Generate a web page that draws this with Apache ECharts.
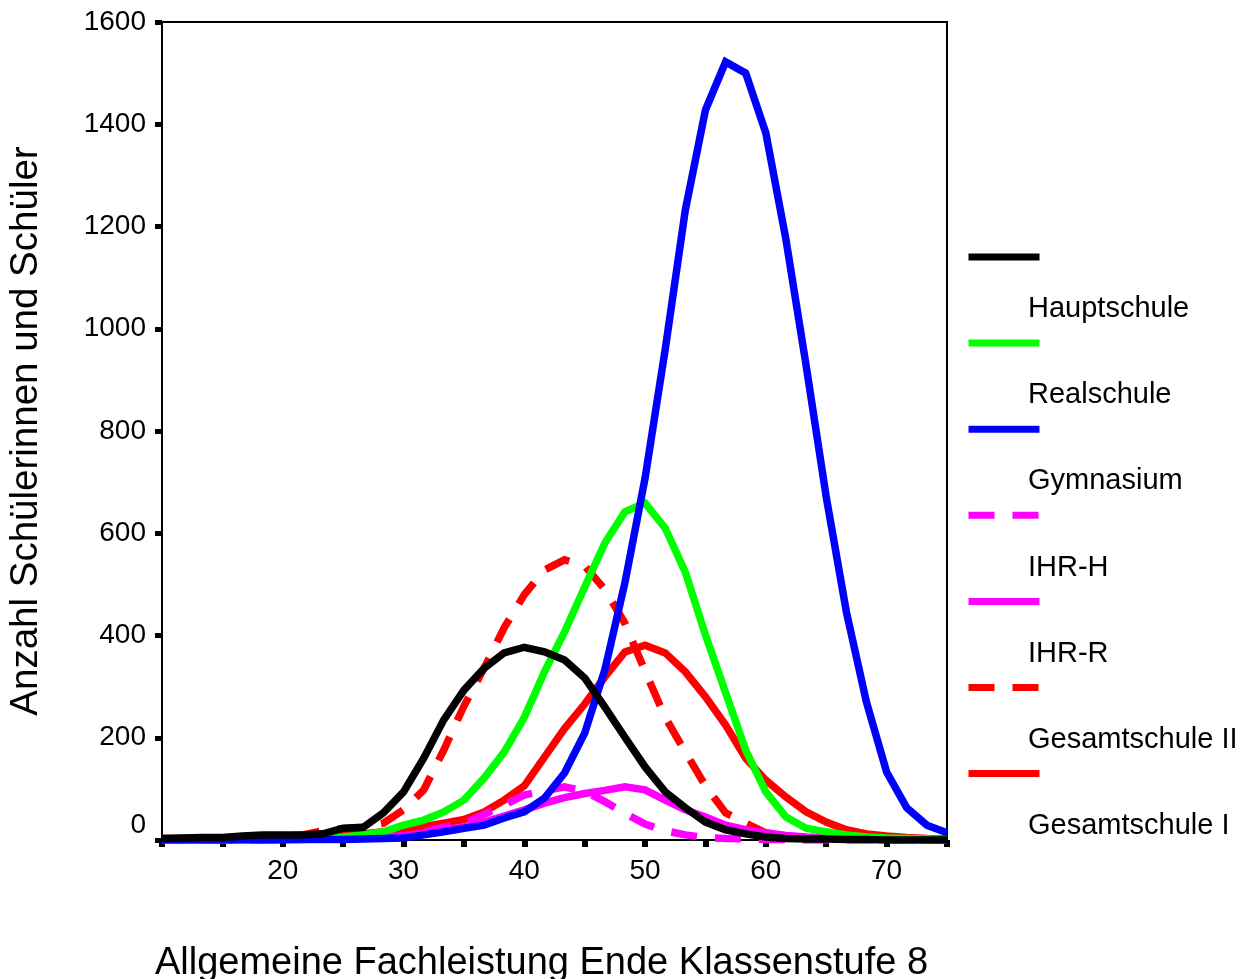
<!DOCTYPE html>
<html>
<head>
<meta charset="utf-8">
<script src="https://cdn.jsdelivr.net/npm/echarts@6/dist/echarts.min.js"></script>
<style>
  html, body { margin: 0; padding: 0; background: #fff; }
  #main { width: 1246px; height: 979px; }
</style>
</head>
<body>
<div id="main"></div>
<script>
// x positions of the curve points (Allgemeine Fachleistung)
const xs = [10, 11.67, 13.33, 15, 16.67, 18.33, 20, 21.67, 23.33, 25,
  26.67, 28.33, 30, 31.67, 33.33, 35, 36.67, 38.33, 40, 41.67,
  43.33, 45, 46.67, 48.33, 50, 51.67, 53.33, 55, 56.67, 58.33,
  60, 61.67, 63.33, 65, 66.67, 68.33, 70, 71.67, 73.33, 75]

const hauptschule = [3, 4, 5, 5, 8, 10, 10, 10, 12, 23,
  25, 53, 94, 160, 235, 293, 336, 366, 377, 368,
  352, 317, 260, 201, 143, 94, 63, 35, 20, 12,
  6, 3, 2, 2, 1, 1, 0, 0, 0, 0]
const realschule = [0, 0, 0, 1, 1, 2, 2, 3, 4, 6,
  10, 16, 29, 39, 55, 78, 121, 172, 240, 329,
  407, 495, 581, 642, 659, 610, 524, 401, 288, 176,
  94, 45, 23, 16, 10, 6, 4, 3, 2, 1]
const gymnasium = [0, 0, 0, 0, 0, 0, 0, 1, 1, 1,
  2, 3, 4, 10, 16, 23, 29, 43, 55, 82,
  131, 209, 333, 503, 708, 960, 1232, 1428, 1522, 1500,
  1383, 1174, 929, 671, 446, 270, 133, 63, 29, 14]
const ihrH = [0, 0, 0, 0, 0, 0, 1, 1, 2, 3,
  4, 6, 8, 16, 25, 32, 50, 68, 88, 96,
  104, 95, 75, 52, 31, 18, 10, 5, 3, 2,
  1, 1, 0, 0, 0, 0, 0, 0, 0, 0]
const ihrR = [0, 0, 0, 0, 1, 1, 1, 2, 2, 3,
  4, 6, 8, 14, 20, 25, 35, 47, 59, 72,
  83, 91, 97, 104, 98, 78, 59, 45, 29, 20,
  14, 9, 6, 4, 3, 2, 1, 1, 0, 0]
const gesamtII = [3, 3, 3, 4, 5, 6, 8, 10, 18, 22,
  25, 33, 59, 98, 176, 262, 336, 415, 480, 528,
  548, 536, 490, 424, 330, 240, 172, 106, 53, 33,
  14, 8, 5, 3, 2, 1, 1, 0, 0, 0]
const gesamtI = [2, 2, 2, 3, 3, 4, 5, 6, 8, 10,
  12, 16, 20, 26, 33, 40, 55, 78, 106, 162,
  218, 266, 319, 368, 381, 366, 329, 280, 225, 160,
  117, 84, 55, 35, 20, 12, 8, 5, 3, 2]

const legendNames = ['Hauptschule', 'Realschule', 'Gymnasium', 'IHR-H', 'IHR-R',
  'Gesamtschule II', 'Gesamtschule I']
const yTicks = [0, 200, 400, 600, 800, 1000, 1200, 1400, 1600]

const font = 'Liberation Sans, Arial, sans-serif'
const dash = [26, 18]

function pairs(ys) {
  return xs.map((x, i) => [x, ys[i]])
}

function lineSeries(name, ys, color, dashed) {
  return {
    name: name,
    type: 'line',
    data: pairs(ys),
    symbol: 'none',
    smooth: false,
    lineStyle: {
      color: color,
      width: 7.5,
      type: dashed ? dash : 'solid',
      join: 'miter'
    },
    itemStyle: { color: color }
  }
}

const chart = echarts.init(document.getElementById('main'))

const option = {
  animation: false,
  backgroundColor: '#fff',
  textStyle: { fontFamily: font, color: '#000' },
  grid: {
    left: 162,
    top: 22,
    right: 299,
    bottom: 139,
    show: true,
    borderColor: '#000',
    borderWidth: 2,
    containLabel: false,
    outerBoundsMode: 'none'
  },
  legend: [
    {
      // line samples
      data: legendNames,
      orient: 'vertical',
      left: 965,
      top: 253,
      padding: 0,
      itemWidth: 71,
      itemHeight: 10,
      itemGap: 78.1,
      formatter: function() { return '' },
      textStyle: { fontSize: 8, lineHeight: 8 },
      lineStyle: { width: 7 },
      itemStyle: { opacity: 0 },
      selectedMode: false
    },
    {
      // labels, drawn below and right of each sample
      data: legendNames,
      orient: 'vertical',
      left: 1023,
      top: 294,
      padding: 0,
      icon: 'rect',
      itemWidth: 0,
      itemHeight: 0,
      itemGap: 56.2,
      itemStyle: { opacity: 0 },
      textStyle: { fontFamily: font, fontSize: 29, lineHeight: 30, color: '#000' },
      selectedMode: false
    }
  ],
  xAxis: {
    type: 'value',
    min: 10,
    max: 75,
    interval: 5,
    name: 'Allgemeine Fachleistung Ende Klassenstufe 8',
    nameLocation: 'middle',
    nameGap: 105,
    nameTextStyle: { fontFamily: font, fontSize: 38, color: '#000', padding: [0, 26, 0, 0] },
    axisLine: { onZero: false, lineStyle: { color: '#000', width: 2 } },
    axisTick: { show: true, inside: false, length: 7, lineStyle: { color: '#000', width: 6 } },
    axisLabel: {
      fontFamily: font,
      fontSize: 28,
      color: '#000',
      margin: 17,
      formatter: function(v) {
        return (v % 10 === 0 && v !== 10) ? String(v) : ''
      }
    },
    splitLine: { show: false }
  },
  yAxis: {
    type: 'value',
    min: yTicks[0],
    max: yTicks[yTicks.length - 1],
    interval: 200,
    name: 'Anzahl Schülerinnen und Schüler',
    nameLocation: 'middle',
    nameGap: 116,
    nameTextStyle: { fontFamily: font, fontSize: 38.5, color: '#000' },
    axisLine: { lineStyle: { color: '#000', width: 2 } },
    axisTick: { show: true, inside: false, length: 7, lineStyle: { color: '#000', width: 5 } },
    axisLabel: {
      fontFamily: font,
      fontSize: 28,
      color: '#000',
      margin: 16,
      formatter: function(v) {
        return v === 0 ? '{z|0}' : String(v)
      },
      rich: {
        z: { fontFamily: font, fontSize: 28, color: '#000', padding: [0, 0, 30, 0] }
      }
    },
    splitLine: { show: false }
  },
  series: [
    lineSeries('Gesamtschule I', gesamtI, '#ff0000', false),
    lineSeries('Gesamtschule II', gesamtII, '#ff0000', true),
    lineSeries('IHR-R', ihrR, '#ff00ff', false),
    lineSeries('IHR-H', ihrH, '#ff00ff', true),
    lineSeries('Realschule', realschule, '#00ff00', false),
    lineSeries('Gymnasium', gymnasium, '#0000ff', false),
    lineSeries('Hauptschule', hauptschule, '#000000', false)
  ]
}

chart.setOption(option)
</script>
</body>
</html>
